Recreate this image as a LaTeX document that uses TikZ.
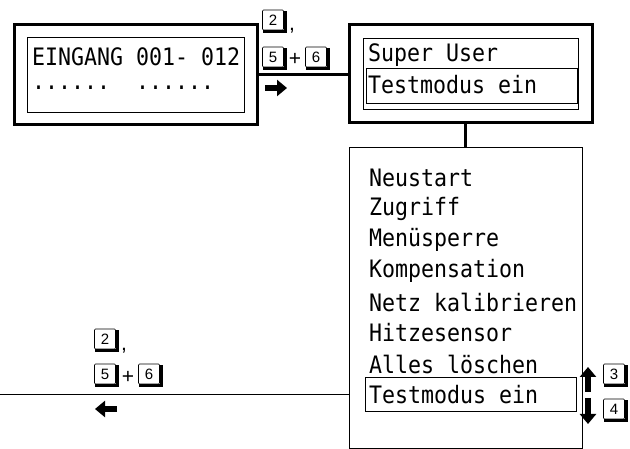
\documentclass[tikz,border=0pt]{standalone}
\usepackage{fontspec}
\setmonofont[FakeStretch=0.9]{DejaVu Sans Mono}
\newfontfamily\keyfont{Liberation Sans}
\usetikzlibrary{arrows.meta}
\tikzset{
  thickbox/.style={draw, line width=3pt, inner sep=0pt},
  thinbox/.style={draw, line width=0.8pt, inner sep=0pt},
  txt/.style={font=\ttfamily\fontsize{24}{26}\selectfont, inner sep=0pt, anchor=west},
  keycap/.style={draw, line width=0.7pt, rounded corners=1pt, minimum width=21pt, minimum height=20pt, inner sep=0pt, font=\keyfont\fontsize{15}{15}\selectfont},
  keyshadow/.style={line width=3pt},
  sym/.style={font=\keyfont\fontsize{21}{21}\selectfont, inner sep=0pt},
  thickline/.style={line width=3pt},
  thinline/.style={line width=0.9pt},
  fatarrow/.style={line width=5.5pt, -{Triangle[length=10pt,width=16pt]}},
}
\newcommand{\keycap}[3]{%
  \node[keycap] (#1) at (#2) {#3};
  \draw[keyshadow] ([xshift=1pt,yshift=-1.5pt]#1.south west) -- ([xshift=1.5pt,yshift=-1.5pt]#1.south east) -- ([xshift=1.5pt,yshift=-1pt]#1.north east);
}
\begin{document}
\begin{tikzpicture}[x=1pt,y=-1pt]
\useasboundingbox (0,0) rectangle (630,449);
% left display
\node[thickbox, minimum width=243pt, minimum height=100pt] (lb) at (135.5,75) {};
\node[thinbox, minimum width=217pt, minimum height=75pt] (lbi) at (135.5,74.5) {};
\node[txt] (l1) at (32,57) {EINGANG 001- 012};
\node[txt] (l2) at (32,88) {......~~......};
% right display
\node[thickbox, minimum width=243pt, minimum height=98pt] (rb) at (470.5,74) {};
\node[thinbox, minimum width=215pt, minimum height=71pt] (rbi) at (470.5,73.5) {};
\node[thinbox, minimum width=211pt, minimum height=35pt] (rhl) at (471.5,85.5) {};
\node[txt] (r1) at (368,55) {Super User};
\node[txt] (r2) at (368,85) {Testmodus ein};
% menu
\node[thinbox, minimum width=233pt, minimum height=301pt] (menu) at (465.5,297.5) {};
\node[txt] (m1) at (369,178) {Neustart};
\node[txt] (m2) at (369,209) {Zugriff};
\node[txt] (m3) at (369,240) {Menüsperre};
\node[txt] (m4) at (369,271) {Kompensation};
\node[txt] (m5) at (369,302) {Netz kalibrieren};
\node[txt] (m6) at (369,333) {Hitzesensor};
\node[txt] (m7) at (369,364) {Alles löschen};
\node[thinbox, minimum width=211pt, minimum height=34pt] (mhl) at (470.5,394) {};
\node[txt] (m8) at (369,395) {Testmodus ein};
% connectors
\draw[thickline] (lb.east) -- (lb.east -| rb.west);
\draw[thickline] (rb.south -| menu.north) -- (menu.north);
\coordinate (lend) at (0,394);
\draw[thinline] (mhl.west -| menu.west) -- (lend);
% keys top
\keycap{ka2}{273,20}{2}
\node[sym] (ca) at (292,31) {,};
\keycap{ka5}{273,57}{5}
\node[sym] (pa) at (295,59) {+};
\keycap{ka6}{316,57}{6}
\coordinate (ar1) at (265,88);
\coordinate (ar2) at (287,88);
\draw[fatarrow] (ar1) -- (ar2);
% keys bottom
\keycap{kb2}{105,339}{2}
\node[sym] (cb) at (124,351) {,};
\keycap{kb5}{105,374}{5}
\node[sym] (pb) at (128,377) {+};
\keycap{kb6}{149,374}{6}
\coordinate (al1) at (117,409);
\coordinate (al2) at (95,409);
\draw[fatarrow] (al1) -- (al2);
% up/down keys
\keycap{k3}{614,374}{3}
\keycap{k4}{614,409}{4}
\coordinate (u1) at (588,392);
\coordinate (u2) at (588,367);
\coordinate (d1) at (588,398);
\coordinate (d2) at (588,424);
\draw[fatarrow] (u1) -- (u2);
\draw[fatarrow] (d1) -- (d2);
\end{tikzpicture}
\end{document}
